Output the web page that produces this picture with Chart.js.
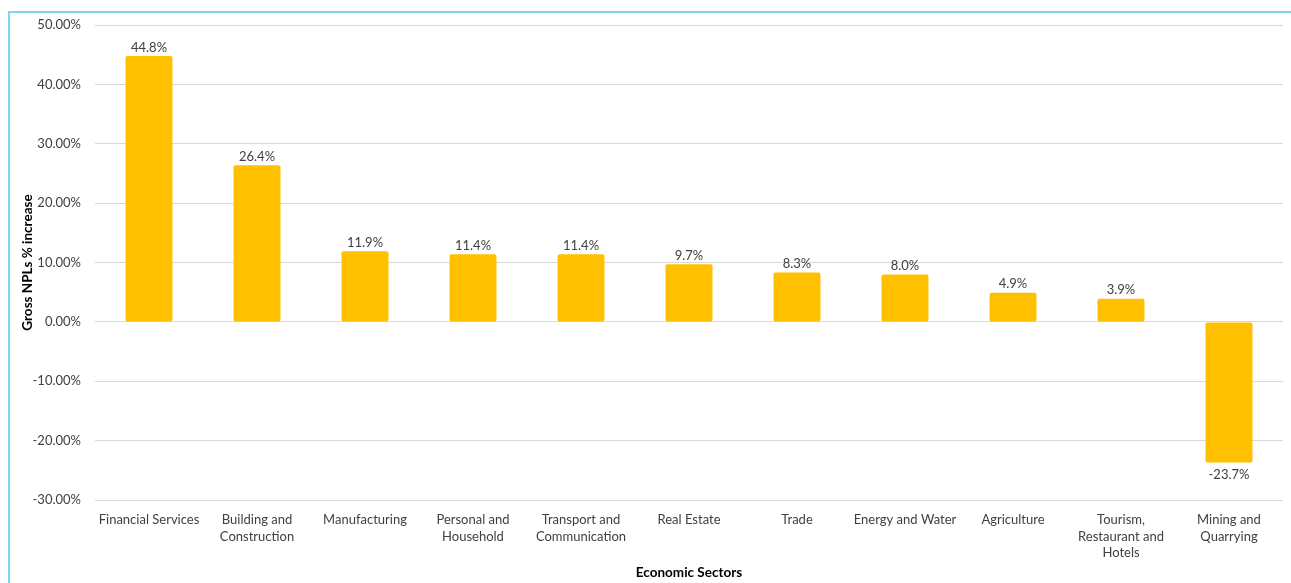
<!DOCTYPE html>
<html>
<head>
<meta charset="utf-8">
<script src="https://cdn.jsdelivr.net/npm/chart.js@4"></script>
<style>
  html, body { margin: 0; padding: 0; background: #fff; }
  #wrap { position: relative; width: 1291px; height: 583px; }
  #frame {
    position: absolute; left: 8px; top: 11px; right: 0; bottom: 0;
    border-left: 2px solid #7fd3f3; border-top: 2px solid #7fd3f3;
    pointer-events: none;
  }
</style>
</head>
<body>
<div id="wrap">
  <canvas id="myChart" width="1291" height="583"></canvas>
  <div id="frame"></div>
</div>
<script>
const sectors = [
    "Financial Services",
    ["Building and", "Construction"],
    "Manufacturing",
    ["Personal and", "Household"],
    ["Transport and", "Communication"],
    "Real Estate",
    "Trade",
    "Energy and Water",
    "Agriculture",
    ["Tourism,", "Restaurant and", "Hotels"],
    ["Mining and", "Quarrying"]
]

const npIncrease = [44.8, 26.4, 11.9, 11.4, 11.4, 9.7, 8.3, 8.0, 4.9, 3.9, -23.7]

const yMin = -30
const yMax = 50
const yStep = 10

const textColor = '#404040'
const fontFamily = 'Lato, "Noto Sans", sans-serif'

// writes the value above (or below for negatives) each bar
const valueLabels = {
    id: 'valueLabels',
    afterDatasetsDraw(chart) {
        const ctx = chart.ctx
        const meta = chart.getDatasetMeta(0)
        ctx.save()
        ctx.font = `13px ${fontFamily}`
        ctx.fillStyle = textColor
        ctx.textAlign = 'center'
        meta.data.forEach((bar, i) => {
            const v = npIncrease[i]
            const text = v.toFixed(1) + '%'
            if (v >= 0) {
                ctx.textBaseline = 'bottom'
                ctx.fillText(text, bar.x, bar.y - 2)
            } else {
                ctx.textBaseline = 'top'
                ctx.fillText(text, bar.x, bar.y + 6)
            }
        })
        ctx.restore()
    }
}

const ctx = document.getElementById('myChart')
new Chart(ctx, {
    type: 'bar',
    data: {
        labels: sectors,
        datasets: [{
            data: npIncrease,
            backgroundColor: '#FFC000',
            borderRadius: 2,
            borderSkipped: false,
            categoryPercentage: 1,
            barPercentage: 0.435
        }]
    },
    options: {
        responsive: false,
        animation: false,
        layout: {
            padding: { left: 20, right: 8, top: 25, bottom: 2 }
        },
        scales: {
            x: {
                grid: { display: false, drawTicks: false },
                border: { display: false },
                ticks: {
                    color: textColor,
                    font: { family: fontFamily, size: 13, lineHeight: 1.3 },
                    padding: 11,
                    maxRotation: 0,
                    autoSkip: false
                },
                title: {
                    display: true,
                    text: 'Economic Sectors',
                    color: '#000',
                    font: { family: fontFamily, size: 13.5, weight: 'bold' },
                    padding: 0
                },
                afterFit(scale) { scale.height = 81 }
            },
            y: {
                min: yMin,
                max: yMax,
                grid: { color: '#d9d9d9', drawTicks: false },
                border: { display: false },
                ticks: {
                    stepSize: yStep,
                    color: textColor,
                    font: { family: fontFamily, size: 13 },
                    padding: 14,
                    callback: v => v.toFixed(2) + '%'
                },
                title: {
                    display: true,
                    text: 'Gross NPLs % increase',
                    color: '#000',
                    font: { family: fontFamily, size: 13.5, weight: 'bold' },
                    padding: 0
                },
                afterFit(scale) { scale.width = 75 }
            }
        },
        plugins: {
            legend: { display: false },
            tooltip: { enabled: false }
        }
    },
    plugins: [valueLabels]
})
</script>
</body>
</html>
